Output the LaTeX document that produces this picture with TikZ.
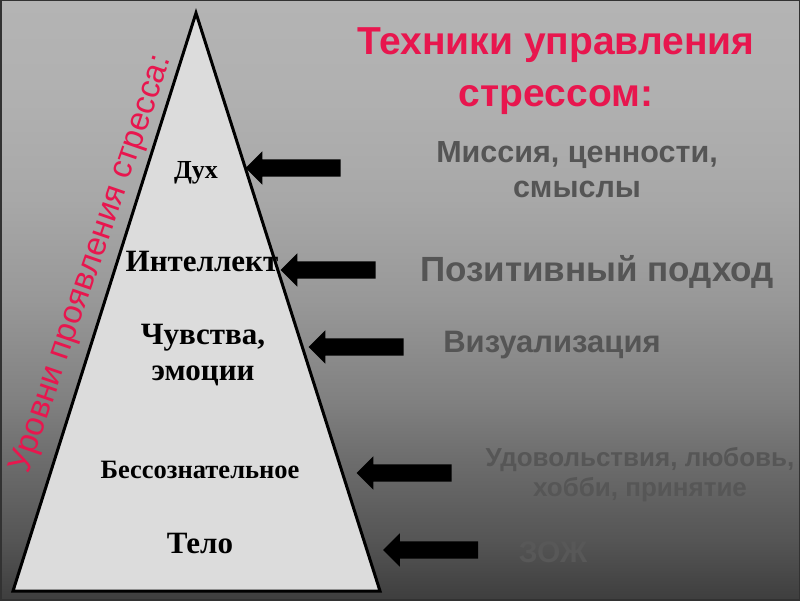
\documentclass[tikz,border=0pt]{standalone}
\usepackage{fontspec}
\setmainfont{Liberation Serif}
\setsansfont{Liberation Sans}
\usetikzlibrary{shapes.arrows}
\definecolor{crim}{RGB}{232,22,78}
\definecolor{txtgray}{RGB}{85,85,85}
\definecolor{bgA}{RGB}{62,62,62}
\definecolor{bgB}{RGB}{85,85,85}
\definecolor{bgC}{RGB}{108,108,108}
\definecolor{bgD}{RGB}{128,128,128}
\definecolor{bgE}{RGB}{152,152,152}
\definecolor{bgF}{RGB}{168,168,168}
\definecolor{bgG}{RGB}{176,176,176}
\definecolor{bgH}{RGB}{180,180,180}
\definecolor{pyrfill}{RGB}{220,220,220}
\pgfdeclareverticalshading{bgshade}{100bp}{color(0bp)=(bgA); color(25bp)=(bgA); color(30bp)=(bgB); color(36.5bp)=(bgC); color(41.5bp)=(bgD); color(50bp)=(bgE); color(58.5bp)=(bgF); color(66.5bp)=(bgG); color(75bp)=(bgH); color(100bp)=(bgH)}
\newcommand{\fsz}[2]{\fontsize{#1}{#2}\selectfont}
\begin{document}
\begin{tikzpicture}[x=1pt,y=1pt,
  levelarrow/.style={single arrow, fill=black, draw=none, shape border rotate=180,
    minimum height=95pt, minimum width=33pt, inner sep=8.5pt, single arrow head extend=8pt},
  levtext/.style={font=\bfseries, text=black, align=center},
  techtext/.style={font=\sffamily\bfseries, text=txtgray, align=center}]
\useasboundingbox (0,0) rectangle (800,600);
\shade[shading=bgshade] (0,0) rectangle (800,600);
\draw[line width=3pt, color=bgA!80!black] (0,0) rectangle (800,600);
% pyramid
\filldraw[fill=pyrfill, draw=black, line width=3pt, line join=miter]
  (196,587) -- (380,9) -- (13,9) -- cycle;
% rotated side label
\node[rotate=71, font=\sffamily\fsz{33}{36}, text=crim] (lvl) at (92,336) {Уровни проявления стресса:};
% title
\node[font=\sffamily\bfseries\fsz{39}{52}, text=crim, align=center] (title) at (556,529) {Техники управления\\стрессом:};
% levels
\node[levtext, font=\bfseries\fsz{26}{30}] (dukh) at (196,427) {Дух};
\node[levtext, font=\bfseries\fsz{31}{34}] (intel) at (202,338) {Интеллект};
\node[levtext, font=\bfseries\fsz{31}{36}] (feel) at (203,245) {Чувства,\\эмоции};
\node[levtext, font=\bfseries\fsz{26.5}{30}] (unc) at (200,130) {Бессознательное};
\node[levtext, font=\bfseries\fsz{31}{34}] (body) at (200,56) {Тело};
% arrows
\node[levelarrow] (a1) at (297.5,432) {};
\node[levelarrow] (a2) at (332.5,330) {};
\node[levelarrow] (a3) at (360.5,253) {};
\node[levelarrow] (a4) at (408.5,127) {};
\node[levelarrow] (a5) at (435,50) {};
% techniques
\node[techtext, font=\sffamily\bfseries\fsz{30.5}{35}] (t1) at (577,430) {Миссия, ценности,\\смыслы};
\node[techtext, font=\sffamily\bfseries\fsz{35}{38}] (t2) at (597,328) {Позитивный подход};
\node[techtext, font=\sffamily\bfseries\fsz{31}{34}] (t3) at (552,255) {Визуализация};
\node[techtext, text={rgb,255:red,86;green,86;blue,86}, font=\sffamily\bfseries\fsz{26}{30}] (t4) at (640,125) {Удовольствия, любовь,\\хобби, принятие};
\node[techtext, text={rgb,255:red,88;green,88;blue,88}, font=\sffamily\bfseries\fsz{30}{34}] (t5) at (553,48) {ЗОЖ};
\end{tikzpicture}
\end{document}
